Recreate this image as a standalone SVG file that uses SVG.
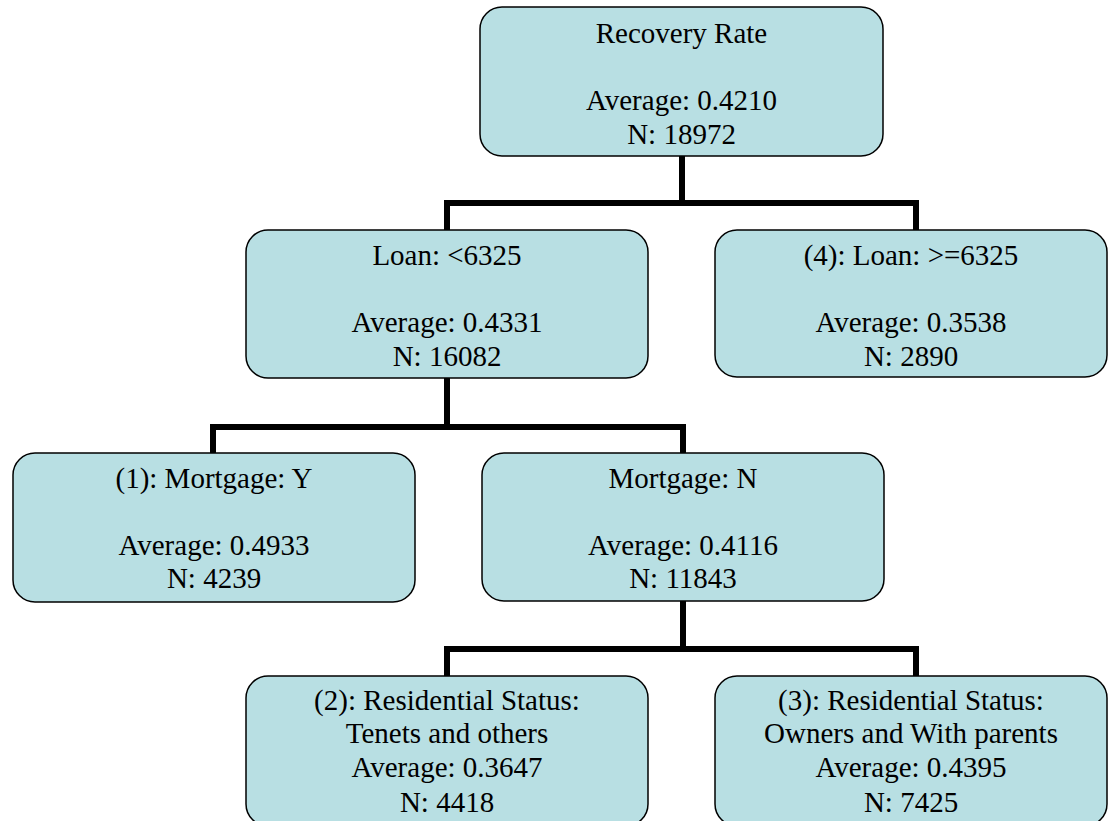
<svg xmlns="http://www.w3.org/2000/svg" width="1109" height="821" viewBox="0 0 1109 821">
<style>
.box{fill:#b8dfe3;stroke:#000;stroke-width:1.5}
.t{font-family:"Liberation Serif","Times New Roman",serif;font-size:29px;fill:#000;text-anchor:middle}
.c{fill:none;stroke:#000;stroke-width:6;stroke-linejoin:miter;stroke-linecap:butt}
</style>
<rect width="1109" height="821" fill="#fff"/>
<g id="connectors">
<path class="c" d="M682,156 V203 M447,230 V203 H916 V230"/>
<path class="c" d="M447,378 V427 M213,453 V427 H683 V453"/>
<path class="c" d="M683,601 V649 M447,676 V649 H916 V676"/>
</g>
<g id="root">
<rect class="box" x="480" y="7" width="403" height="149" rx="22"/>
<text class="t" x="681.5" y="43">Recovery Rate</text>
<text class="t" x="681.5" y="110">Average: 0.4210</text>
<text class="t" x="681.5" y="144">N: 18972</text>
</g>
<g id="loan-lt">
<rect class="box" x="246" y="230" width="402" height="148" rx="22"/>
<text class="t" x="447" y="265">Loan: &lt;6325</text>
<text class="t" x="447" y="332">Average: 0.4331</text>
<text class="t" x="447" y="366">N: 16082</text>
</g>
<g id="loan-ge">
<rect class="box" x="715" y="230" width="392" height="147" rx="22"/>
<text class="t" x="911" y="265">(4): Loan: &gt;=6325</text>
<text class="t" x="911" y="332">Average: 0.3538</text>
<text class="t" x="911" y="366">N: 2890</text>
</g>
<g id="mortgage-y">
<rect class="box" x="13" y="453" width="402" height="149" rx="22"/>
<text class="t" x="214" y="488">(1): Mortgage: Y</text>
<text class="t" x="214" y="555">Average: 0.4933</text>
<text class="t" x="214" y="588">N: 4239</text>
</g>
<g id="mortgage-n">
<rect class="box" x="482" y="453" width="402" height="148" rx="22"/>
<text class="t" x="683" y="488">Mortgage: N</text>
<text class="t" x="683" y="555">Average: 0.4116</text>
<text class="t" x="683" y="588">N: 11843</text>
</g>
<g id="res-tenets">
<rect class="box" x="246" y="676" width="402" height="150" rx="22"/>
<text class="t" x="447" y="710">(2): Residential Status:</text>
<text class="t" x="447" y="743">Tenets and others</text>
<text class="t" x="447" y="777">Average: 0.3647</text>
<text class="t" x="447" y="812">N: 4418</text>
</g>
<g id="res-owners">
<rect class="box" x="715" y="676" width="392" height="150" rx="22"/>
<text class="t" x="911" y="710">(3): Residential Status:</text>
<text class="t" x="911" y="743">Owners and With parents</text>
<text class="t" x="911" y="777">Average: 0.4395</text>
<text class="t" x="911" y="812">N: 7425</text>
</g>
</svg>
